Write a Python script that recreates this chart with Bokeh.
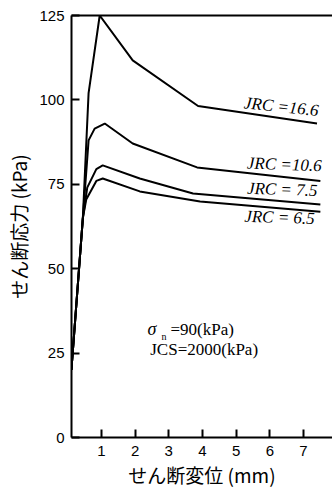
import math
from bokeh.plotting import figure
from bokeh.models import LinearAxis, Label, FixedTicker
from bokeh.embed import file_html
from bokeh.resources import INLINE

# ---- data ----
x_166 = [0.11, 0.45, 0.62, 0.95, 1.93, 3.87, 7.40]
y_166 = [20, 65, 102, 125, 111.7, 98.2, 93.0]

x_106 = [0.11, 0.45, 0.62, 0.80, 1.10, 1.93, 3.84, 7.50]
y_106 = [20, 65, 88, 91.5, 93.0, 87.1, 80.0, 76.0]

x_75 = [0.11, 0.45, 0.58, 0.85, 1.04, 2.14, 3.72, 7.50]
y_75 = [20, 65, 74, 79.5, 80.6, 76.7, 72.3, 69.0]

x_65 = [0.11, 0.45, 0.55, 0.85, 1.04, 2.14, 3.93, 7.50]
y_65 = [20, 65, 70.5, 76.0, 76.7, 72.9, 69.9, 66.9]

labels = ["JRC =16.6", "JRC =10.6", "JRC = 7.5", "JRC = 6.5"]
x_ticks = [1, 2, 3, 4, 5, 6, 7]
y_ticks = [0, 25, 50, 75, 100, 125]

p = figure(width=332, height=492, x_range=(0.113, 7.86), y_range=(0, 125),
           output_backend="svg", toolbar_location=None,
           min_border_left=71, min_border_right=0, min_border_top=15, min_border_bottom=55)
p.outline_line_color = None
p.grid.visible = False
p.background_fill_color = "white"
p.border_fill_color = "white"

tick_font = "Liberation Sans"
for ax in [p.xaxis[0], p.yaxis[0]]:
    ax.axis_line_width = 2
    ax.axis_line_color = "black"
    ax.major_tick_in = 8
    ax.major_tick_out = 0
    ax.minor_tick_line_color = None
    ax.major_tick_line_width = 2
    ax.major_label_text_font = tick_font
    ax.major_label_text_font_size = "15px"
    ax.major_label_text_color = "black"
    ax.axis_label_text_font = "Noto Sans CJK JP"
    ax.axis_label_text_font_size = "19px"
    ax.axis_label_text_font_style = "normal"
    ax.axis_label_text_color = "black"

p.xaxis[0].ticker = FixedTicker(ticks=x_ticks)
p.yaxis[0].ticker = FixedTicker(ticks=y_ticks)
p.xaxis[0].major_label_standoff = 8
p.yaxis[0].major_label_standoff = 7
p.xaxis[0].axis_label = "せん断変位 (mm)"
p.yaxis[0].axis_label = "せん断応力 (kPa)"
p.xaxis[0].axis_label_standoff = 2
p.yaxis[0].axis_label_standoff = 4

top = LinearAxis(major_tick_in=0, major_tick_out=0, minor_tick_line_color=None,
                 major_label_text_font_size="0px", axis_line_width=2)
top.ticker = FixedTicker(ticks=[])
p.add_layout(top, "above")

for xs, ys in [(x_166, y_166), (x_106, y_106), (x_75, y_75), (x_65, y_65)]:
    p.line(xs, ys, line_color="black", line_width=2)

lab_pos = [(6.34, 98.0, -6), (6.43, 80.9, -2), (6.37, 73.5, -2), (6.29, 65.2, -2)]
for t, (lx, ly, ang) in zip(labels, lab_pos):
    p.add_layout(Label(x=lx, y=ly, text=t, text_font="Liberation Serif",
                       text_font_style="italic", text_font_size="17px",
                       text_align="center", text_baseline="middle",
                       angle=math.radians(ang), text_color="black"))

p.add_layout(Label(x=2.5, y=32, text="σ", text_font="Liberation Serif",
                   text_font_style="italic", text_font_size="18px",
                   text_align="center", text_baseline="middle", text_color="black"))
p.add_layout(Label(x=2.86, y=30.0, text="n", text_font="Liberation Serif",
                   text_font_size="10px", text_align="center",
                   text_baseline="middle", text_color="black"))
p.add_layout(Label(x=3.05, y=32, text="=90(kPa)", text_font="Liberation Serif",
                   text_font_size="17px", text_align="left",
                   text_baseline="middle", text_color="black"))
p.add_layout(Label(x=4.05, y=26, text="JCS=2000(kPa)", text_font="Liberation Serif",
                   text_font_size="17px", text_align="center",
                   text_baseline="middle", text_color="black"))

open("out.html", "w").write(file_html(p, INLINE))
